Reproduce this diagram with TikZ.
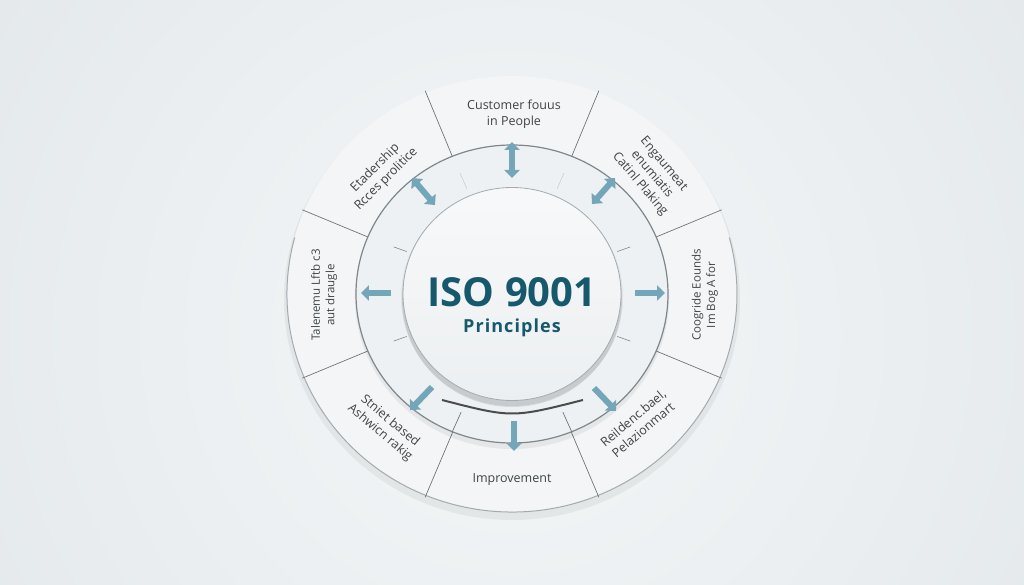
\documentclass[tikz,border=0pt]{standalone}
\usepackage{fontspec}
\setmainfont{Open Sans}
\usetikzlibrary{arrows.meta}
\definecolor{bgin}{HTML}{F5F7F8}
\definecolor{bgout}{HTML}{D8DFE3}
\definecolor{ringfill}{HTML}{F3F5F6}
\definecolor{midfill}{HTML}{EEF1F3}
\definecolor{innerfill}{HTML}{ECEFF1}
\definecolor{segline}{HTML}{6E767B}
\definecolor{edgeline}{HTML}{A3ABB0}
\definecolor{ringline}{HTML}{7E878C}
\definecolor{arrowcol}{HTML}{73A6B8}
\definecolor{titlecol}{HTML}{16586C}
\definecolor{labelcol}{HTML}{3E4448}
\begin{document}
\begin{tikzpicture}[x=1pt,y=1pt,
  lbl/.style={text=labelcol, font=\fontsize{12.5}{15.5}\selectfont, align=center, inner sep=0pt},
  sidelbl/.style={lbl, font=\fontsize{11.5}{14.5}\selectfont},
  arr/.style={draw=arrowcol, line width=6pt, -{Triangle[width=15pt,length=8pt]}},
  darr/.style={draw=arrowcol, line width=6pt, {Triangle[width=15pt,length=8pt]}-{Triangle[width=15pt,length=8pt]}},
  seg/.style={draw=segline, line width=0.7pt},
  tickmark/.style={draw=ringline, line width=0.6pt}]
% background
\useasboundingbox (-512,-291) rectangle (512,294);
\begin{scope}
\clip (-512,-291) rectangle (512,294);
\fill[bgout] (-512,-291) rectangle (512,294);
\shade[inner color=bgin, outer color=bgout] (0,-40) circle [radius=1050];
\end{scope}
% outer ring
\fill[black, opacity=0.05] (0,-5) ellipse [x radius=228, y radius=221];
\fill[ringfill] (0,0) ellipse [x radius=225, y radius=218];
\draw[edgeline, line width=1pt] (165:225 and 218) arc [start angle=165, end angle=375, x radius=225, y radius=218];
% segment lines
\foreach \a in {22.5,67.5,112.5,157.5,202.5,337.5}
  \draw[seg] (\a:156 and 149) -- (\a:227 and 220);
\foreach \a in {247.5,292.5}
  \draw[seg] (\a:133 and 128) -- (\a:227 and 220);
% middle ring
\fill[black, opacity=0.06] (0,-4) ellipse [x radius=157, y radius=151];
\fill[midfill] (0,0) ellipse [x radius=156, y radius=149];
\draw[ringline, line width=1.2pt] (0,0) ellipse [x radius=156, y radius=149];
% bottom segment lines inside ring
\foreach \a in {247.5,292.5}
  \draw[seg] (\a:133 and 128) -- (\a:157 and 150);
% ticks
\foreach \a in {22.5,157.5,202.5,337.5}
  \draw[tickmark] (\a:114 and 111) -- (\a:128 and 123);
\foreach \a in {67.5,112.5}
  \draw[tickmark, opacity=0.3] (\a:118 and 114) -- (\a:136 and 131);
% dark arc under inner circle
\draw[draw=black!70, line width=2pt] (-70,-106) .. controls (0,-124) .. (71,-106);
% inner circle
\fill[black, opacity=0.10] (0,-5) ellipse [x radius=110, y radius=108];
\fill[black, opacity=0.06] (0,-3) ellipse [x radius=111, y radius=109];
\shade[top color=white!60!innerfill, bottom color=innerfill] (0,0) ellipse [x radius=109, y radius=106.5];
\draw[edgeline, line width=0.8pt] (0,0) ellipse [x radius=109, y radius=106.5];
% arrows
\draw[darr] (0,116) -- (0,152);
\draw[darr] (-77,89) -- (-100,116);
\draw[darr] (80,90) -- (103,116);
\draw[arr] (-121,1) -- (-151,1);
\draw[arr] (123,1) -- (153,1);
\draw[arr] (-80,-93) -- (-102,-116);
\draw[arr] (2,-127) -- (2,-157);
\draw[arr] (82,-94) -- (104,-117);
% title
\node[font=\fontsize{40}{44}\selectfont\bfseries, text=titlecol, inner sep=0pt] (iso) at (0,2) {ISO 9001};
\node[font=\fontsize{18}{20}\selectfont\bfseries\addfontfeatures{LetterSpace=6}, text=titlecol, inner sep=0pt] (pr) at (0,-34) {Principles};
% labels
\node[lbl] (cust) at (2,180) {Customer fouus\\in People};
\node[lbl, rotate=45] (lead) at (137.5:178) {Etadership\\Rcces prolitice};
\node[lbl, rotate=-50] (eng) at (40.6:184) {Engaumeat\\enumiatis\\Catinl Plaking};
\node[sidelbl, rotate=90] (lft) at (-188,-1) {Talenemu Lftb c3\\aut draugle};
\node[sidelbl, rotate=90] (rgt) at (193,-1) {Coogride Eounds\\Im Bog A for};
\node[lbl, rotate=-40] (evid) at (-127,-133) {Stniet based\\Ashwicn rakig};
\node[lbl, rotate=40] (rel) at (126,-130) {Reildenc.bael,\\Pelazionmart};
\node[lbl] (imp) at (0,-186) {Improvement};
\end{tikzpicture}
\end{document}
